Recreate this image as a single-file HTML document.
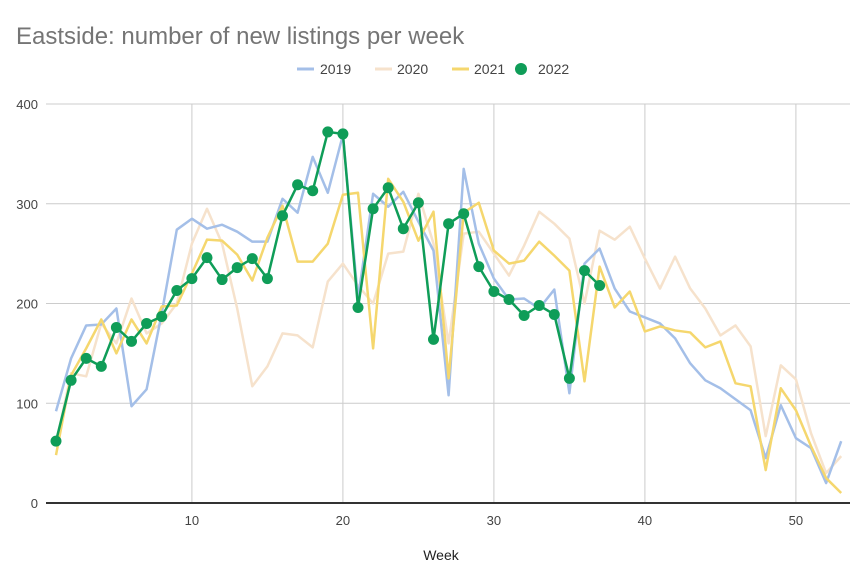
<!DOCTYPE html><html><head><style>body{margin:0;background:#fff}svg{display:block}text{font-family:"Liberation Sans",sans-serif}</style></head><body>
<svg id="s" width="864" height="576" xmlns="http://www.w3.org/2000/svg">
<text x="16" y="44" font-size="24" fill="#757575">Eastside: number of new listings per week</text>
<g font-size="14" fill="#444">
<line x1="297" y1="69" x2="314" y2="69" stroke="#a4bfe8" stroke-width="3"/><text x="320" y="74">2019</text>
<line x1="375" y1="69" x2="392" y2="69" stroke="#f6e2cc" stroke-width="3"/><text x="397" y="74">2020</text>
<line x1="452" y1="69" x2="469" y2="69" stroke="#f5d76e" stroke-width="3"/><text x="474" y="74">2021</text>
<circle cx="521" cy="69" r="6" fill="#0f9d58"/><text x="538" y="74">2022</text>
</g>
<g id="grid" stroke="#ccc" stroke-width="1"></g>
<g id="lab" font-size="13" fill="#444"></g>
<text x="441" y="560" font-size="14" fill="#222" text-anchor="middle">Week</text>
<g id="ser"></g>
</svg>
<script>
var X=w=>56+(w-1)*15.1, Y=v=>503-v*0.9975;
var g=document.getElementById('grid'),l=document.getElementById('lab'),s=document.getElementById('ser'),ns="http://www.w3.org/2000/svg";
function el(p,t,a,txt){var e=document.createElementNS(ns,t);for(var k in a)e.setAttribute(k,a[k]);if(txt!=null)e.textContent=txt;p.appendChild(e);return e;}
for(var v=100;v<=400;v+=100)el(g,'line',{x1:46,x2:850,y1:Y(v),y2:Y(v)});
for(var w=10;w<=50;w+=10)el(g,'line',{x1:X(w),x2:X(w),y1:104,y2:503});
for(var v=0;v<=400;v+=100)el(l,'text',{x:38,y:Y(v)+5,'text-anchor':'end'},v);
for(var w=10;w<=50;w+=10)el(l,'text',{x:X(w),y:525,'text-anchor':'middle'},w);
el(g,'line',{x1:46,x2:850,y1:503,y2:503,stroke:'#333','stroke-width':2});
var d20=[60,130,127,180,160,205,170,180,200,260,295,260,195,117,137,170,168,156,222,240,218,200,250,252,310,260,160,270,272,250,228,258,292,280,265,200,273,264,277,245,215,247,215,195,168,178,157,67,138,124,70,30,47];
var d19=[92,145,178,179,195,97,114,190,274,285,275,279,272,262,262,305,291,347,311,369,205,310,297,312,282,253,108,335,260,225,204,205,195,214,110,240,255,215,192,186,180,165,140,123,115,104,93,45,98,65,55,20,62];
var d21=[48,128,155,184,150,184,160,197,198,230,264,263,249,223,266,298,242,242,260,309,311,155,325,302,263,292,125,291,301,253,240,243,262,248,233,122,237,196,212,172,177,173,171,156,162,120,117,33,115,93,57,25,10];
var d22=[62,123,145,137,176,162,180,187,213,225,246,224,236,245,225,288,319,313,372,370,196,295,316,275,301,164,280,290,237,212,204,188,198,189,125,233,218];
function line(d,c,w){el(s,'polyline',{points:d.map((v,i)=>X(i+1)+','+Y(v)).join(' '),fill:'none',stroke:c,'stroke-width':w,'stroke-linejoin':'round'});}
line(d20,'#f6e2cc',2.5);line(d19,'#a4bfe8',2.5);line(d21,'#f5d76e',2.5);line(d22,'#0f9d58',2.5);
d22.forEach((v,i)=>el(s,'circle',{cx:X(i+1),cy:Y(v),r:5.5,fill:'#0f9d58'}));
</script>
</body></html>
